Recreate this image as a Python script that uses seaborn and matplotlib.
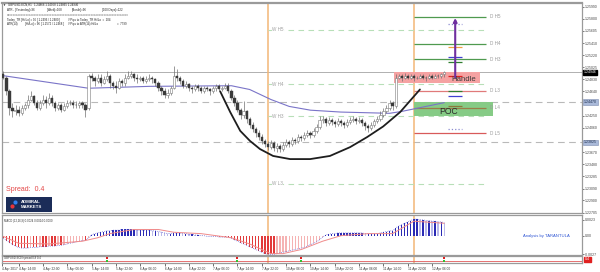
import numpy as np
import pandas as pd
import matplotlib
matplotlib.use("Agg")
import matplotlib.pyplot as plt
from matplotlib.patches import Rectangle
import seaborn as sns

sns.set_style("white")
plt.rcParams['font.family'] = ['Liberation Sans', 'DejaVu Sans']

# ---------------- data ----------------
first_bar = 3
open_ = [1.2492, 1.2486, 1.2464, 1.2438, 1.2432, 1.2435, 1.2429, 1.2437, 1.2442, 1.2451,
         1.2456, 1.2446, 1.2438, 1.2445, 1.2451, 1.2446, 1.2454, 1.2445, 1.2438, 1.2442,
         1.2435, 1.2440, 1.2445, 1.2446, 1.2443, 1.2442, 1.2445, 1.2442, 1.2438, 1.2489,
         1.2485, 1.2480, 1.2486, 1.2478, 1.2483, 1.2488, 1.2477, 1.2473, 1.2470, 1.2480,
         1.2477, 1.2486, 1.2489, 1.2491, 1.2486, 1.2483, 1.2485, 1.2480, 1.2483, 1.2486,
         1.2483, 1.2478, 1.2470, 1.2464, 1.2459, 1.2462, 1.2470, 1.2489, 1.2486, 1.2480,
         1.2473, 1.2475, 1.2470, 1.2467, 1.2472, 1.2469, 1.2465, 1.2470, 1.2467, 1.2464,
         1.2469, 1.2472, 1.2467, 1.2470, 1.2473, 1.2464, 1.2454, 1.2445, 1.2435, 1.2426,
         1.2432, 1.2420, 1.2410, 1.2404, 1.2397, 1.2391, 1.2385, 1.2380, 1.2375, 1.2381,
         1.2374, 1.2377, 1.2372, 1.2378, 1.2383, 1.2380, 1.2386, 1.2385, 1.2391, 1.2389,
         1.2394, 1.2397, 1.2394, 1.2401, 1.2407, 1.2418, 1.2420, 1.2413, 1.2418, 1.2415,
         1.2412, 1.2416, 1.2413, 1.2410, 1.2415, 1.2418, 1.2420, 1.2416, 1.2418, 1.2413,
         1.2408, 1.2405, 1.2410, 1.2416, 1.2420, 1.2427, 1.2432, 1.2438, 1.2445, 1.2440,
         1.2486, 1.2488, 1.2485, 1.2489, 1.2486, 1.2488, 1.2485, 1.2486, 1.2489, 1.2486,
         1.2485, 1.2488, 1.2486, 1.2489, 1.2488, 1.2491]
high = [1.2496, 1.2488, 1.2467, 1.2445, 1.2442, 1.2440, 1.2442, 1.2446, 1.2459, 1.2464,
        1.2459, 1.2451, 1.2451, 1.2458, 1.2456, 1.2461, 1.2458, 1.2448, 1.2446, 1.2445,
        1.2445, 1.2450, 1.2451, 1.2450, 1.2448, 1.2448, 1.2448, 1.2445, 1.2492, 1.2494,
        1.2489, 1.2492, 1.2491, 1.2488, 1.2496, 1.2491, 1.2481, 1.2480, 1.2485, 1.2483,
        1.2491, 1.2497, 1.2496, 1.2494, 1.2491, 1.2489, 1.2488, 1.2488, 1.2491, 1.2489,
        1.2486, 1.2481, 1.2473, 1.2469, 1.2467, 1.2473, 1.2504, 1.2499, 1.2489, 1.2483,
        1.2480, 1.2478, 1.2473, 1.2475, 1.2475, 1.2472, 1.2473, 1.2473, 1.2470, 1.2472,
        1.2475, 1.2475, 1.2473, 1.2477, 1.2477, 1.2467, 1.2458, 1.2450, 1.2438, 1.2448,
        1.2435, 1.2423, 1.2415, 1.2407, 1.2402, 1.2396, 1.2388, 1.2385, 1.2386, 1.2385,
        1.2381, 1.2380, 1.2383, 1.2388, 1.2386, 1.2391, 1.2389, 1.2396, 1.2394, 1.2399,
        1.2402, 1.2401, 1.2405, 1.2412, 1.2424, 1.2424, 1.2423, 1.2423, 1.2421, 1.2418,
        1.2421, 1.2420, 1.2416, 1.2420, 1.2423, 1.2424, 1.2423, 1.2423, 1.2421, 1.2416,
        1.2412, 1.2415, 1.2420, 1.2424, 1.2432, 1.2437, 1.2443, 1.2450, 1.2448, 1.2491,
        1.2492, 1.2491, 1.2494, 1.2492, 1.2491, 1.2491, 1.2489, 1.2492, 1.2492, 1.2489,
        1.2491, 1.2491, 1.2492, 1.2492, 1.2494, 1.24968]
low = [1.2483, 1.2459, 1.2427, 1.2423, 1.2426, 1.2424, 1.2426, 1.2434, 1.2438, 1.2448,
       1.2442, 1.2434, 1.2435, 1.2442, 1.2437, 1.2443, 1.2440, 1.2432, 1.2435, 1.2431,
       1.2432, 1.2437, 1.2442, 1.2438, 1.2437, 1.2438, 1.2437, 1.2423, 1.2435, 1.2480,
       1.2473, 1.2477, 1.2472, 1.2475, 1.2480, 1.2470, 1.2467, 1.2462, 1.2467, 1.2472,
       1.2473, 1.2483, 1.2485, 1.2481, 1.2478, 1.2480, 1.2477, 1.2477, 1.2480, 1.2478,
       1.2473, 1.2465, 1.2458, 1.2454, 1.2454, 1.2459, 1.2467, 1.2480, 1.2475, 1.2469,
       1.2470, 1.2465, 1.2462, 1.2464, 1.2464, 1.2461, 1.2462, 1.2464, 1.2459, 1.2461,
       1.2465, 1.2464, 1.2465, 1.2467, 1.2461, 1.2450, 1.2440, 1.2431, 1.2420, 1.2421,
       1.2413, 1.2405, 1.2399, 1.2391, 1.2386, 1.2380, 1.2375, 1.2370, 1.2372, 1.2369,
       1.2367, 1.2367, 1.2369, 1.2375, 1.2375, 1.2377, 1.2380, 1.2381, 1.2385, 1.2386,
       1.2391, 1.2389, 1.2391, 1.2397, 1.2404, 1.2413, 1.2408, 1.2410, 1.2410, 1.2407,
       1.2408, 1.2408, 1.2405, 1.2407, 1.2412, 1.2415, 1.2412, 1.2413, 1.2408, 1.2402,
       1.2399, 1.2402, 1.2407, 1.2413, 1.2416, 1.2423, 1.2429, 1.2435, 1.2435, 1.2437,
       1.2483, 1.2481, 1.2483, 1.2483, 1.2483, 1.2481, 1.2483, 1.2485, 1.2483, 1.2481,
       1.2483, 1.2483, 1.2485, 1.2485, 1.2486, 1.24865]
close = [1.2486, 1.2464, 1.2438, 1.2432, 1.2435, 1.2429, 1.2437, 1.2442, 1.2451, 1.2456,
         1.2446, 1.2438, 1.2445, 1.2451, 1.2446, 1.2454, 1.2445, 1.2438, 1.2442, 1.2435,
         1.2440, 1.2445, 1.2446, 1.2443, 1.2442, 1.2445, 1.2442, 1.2435, 1.2489, 1.2485,
         1.2480, 1.2486, 1.2478, 1.2483, 1.2488, 1.2477, 1.2473, 1.2470, 1.2480, 1.2477,
         1.2486, 1.2489, 1.2491, 1.2486, 1.2483, 1.2485, 1.2480, 1.2483, 1.2486, 1.2483,
         1.2478, 1.2470, 1.2464, 1.2459, 1.2462, 1.2470, 1.2489, 1.2486, 1.2480, 1.2473,
         1.2475, 1.2470, 1.2467, 1.2472, 1.2469, 1.2465, 1.2470, 1.2467, 1.2464, 1.2469,
         1.2472, 1.2467, 1.2470, 1.2473, 1.2464, 1.2454, 1.2445, 1.2435, 1.2426, 1.2432,
         1.2420, 1.2410, 1.2404, 1.2397, 1.2391, 1.2385, 1.2380, 1.2375, 1.2381, 1.2374,
         1.2377, 1.2372, 1.2378, 1.2383, 1.2380, 1.2386, 1.2385, 1.2391, 1.2389, 1.2394,
         1.2397, 1.2394, 1.2401, 1.2407, 1.2418, 1.2420, 1.2413, 1.2418, 1.2415, 1.2412,
         1.2416, 1.2413, 1.2410, 1.2415, 1.2418, 1.2420, 1.2416, 1.2418, 1.2413, 1.2408,
         1.2405, 1.2410, 1.2416, 1.2420, 1.2427, 1.2432, 1.2438, 1.2445, 1.2440, 1.2486,
         1.2488, 1.2485, 1.2489, 1.2486, 1.2488, 1.2485, 1.2486, 1.2489, 1.2486, 1.2485,
         1.2488, 1.2486, 1.2489, 1.2488, 1.2491, 1.24946]
macd_hist = [-0.0004, -0.0007, -0.0010, -0.0013, -0.0015, -0.0017, -0.0018, -0.0018, -0.0018, -0.0017,
             -0.0017, -0.0017, -0.0016, -0.0016, -0.0016, -0.0015, -0.0015, -0.0015, -0.0014, -0.0014,
             -0.0013, -0.0012, -0.0011, -0.0010, -0.0009, -0.0008, -0.0007, -0.0007, -0.0003, 0.0001,
             0.0003, 0.0004, 0.0005, 0.0006, 0.0007, 0.0007, 0.0008, 0.0008, 0.0008, 0.0009,
             0.0009, 0.0009, 0.0009, 0.0009, 0.0008, 0.0008, 0.0008, 0.0008, 0.0008, 0.0007,
             0.0007, 0.0006, 0.0005, 0.0004, 0.0003, 0.0003, 0.0004, 0.0004, 0.0004, 0.0003,
             0.0003, 0.0002, 0.0002, 0.0001, 0.0001, 0.0000, 0.0000, -0.0001, -0.0001, -0.0001,
             -0.0001, -0.0002, -0.0002, -0.0002, -0.0002, -0.0004, -0.0006, -0.0008, -0.0010, -0.0012,
             -0.0014, -0.0016, -0.0018, -0.0020, -0.0022, -0.0024, -0.0026, -0.0027, -0.0027, -0.0027,
             -0.0026, -0.0025, -0.0024, -0.0023, -0.0022, -0.0021, -0.0020, -0.0019, -0.0018, -0.0017,
             -0.0015, -0.0013, -0.0011, -0.0009, -0.0006, -0.0002, 0.0001, 0.0002, 0.0003, 0.0003,
             0.0004, 0.0004, 0.0004, 0.0004, 0.0004, 0.0004, 0.0004, 0.0004, 0.0004, 0.0003,
             0.0003, 0.0003, 0.0003, 0.0003, 0.0004, 0.0005, 0.0006, 0.0007, 0.0007, 0.0011,
             0.0014, 0.0016, 0.0018, 0.0020, 0.0022, 0.0024, 0.0024, 0.0023, 0.0023, 0.0022,
             0.0022, 0.0021, 0.0021, 0.0020, 0.0020, 0.0019]
signal_bar = [3, 8, 18, 29, 34, 38, 46, 54, 59, 68, 78, 84, 91, 95, 101, 108, 114, 123, 131, 138, 148]
signal_val = [-0.0001, -0.0011, -0.0012, -0.0008, -0.0003, 0.0003, 0.0009, 0.0009, 0.0005, 0.0003,
              -0.0003, -0.0012, -0.0026, -0.0026, -0.0020, -0.0008, 0.0000, 0.0003, 0.0003, 0.0021, 0.0018]
ma_bar = [3, 31, 51, 78, 84, 91, 97, 104, 114, 130, 134, 148]
ma_val = [1.2489, 1.2469, 1.2472, 1.2473, 1.2467, 1.2451, 1.2440, 1.2434, 1.2431, 1.2429, 1.2432, 1.2446]
cup_bar = [74.3, 77.6, 80.9, 84.1, 87.4, 91.7, 97.3, 103.9, 110.4, 117, 122.6, 127.9, 133.5, 140]
cup_price = [1.2464, 1.2431, 1.2401, 1.2385, 1.2372, 1.2361, 1.2356, 1.2356, 1.2361, 1.2375,
             1.2391, 1.2408, 1.2431, 1.2467]

current_price = 1.24946
gray_dashed_levels = [1.2447, 1.23825]
w_names = ['W H5', 'W H4', 'W H3', 'W L3']
w_levels = [1.2562, 1.2475, 1.2424, 1.2317]
d_names = ['D H5', 'D H4', 'D H3', 'D L3', 'D L4', 'D L5']
d_levels = [1.2583, 1.2540, 1.2515, 1.2465, 1.2438, 1.2397]
d_colors = ['#4f9a4f', '#4f9a4f', '#4f9a4f', '#e07a7a', '#9c7c48', '#d85a5a']
marker_levels = [1.2572, 1.2534, 1.2519, 1.2511, 1.2488, 1.2465, 1.2456, 1.2440, 1.2404]
marker_colors = ['#8a8ad0', '#f0a040', '#4040d0', '#2f7f2f', '#e02020', '#2f7f2f', '#4040d0', '#8a7a3a', '#8a8ad0']
marker_styles = [':', '-', '-', '-', '-', '-', '-', '-', ':']
handle_bars = (131.5, 159.8)
handle_prices = (1.24766, 1.24950)
poc_bars = (138.1, 164.1)
poc_prices = (1.24243, 1.24464)
arrow_bar = 151.6
arrow_prices = (1.2486, 1.2581)
week_sep_bar = 90.05
day_sep_bar = 138.1
spread_mark_bars = [37, 80, 101, 148]

price_ticks = [1.25990, 1.25800, 1.25605, 1.25410, 1.25220, 1.25025, 1.24830, 1.24640,
               1.24250, 1.24060, 1.23670, 1.23480, 1.23285, 1.23090, 1.22900, 1.22705]
macd_ticks = [0.0023, 0.0, -0.0027]
macd_tick_labels = ['0.0023', '0.00', '-0.0027']
time_tick_bars = [2.7, 8, 16, 24, 32, 40, 48, 56, 64, 72, 80, 88, 96, 104, 112, 120, 128, 136, 144]
time_tick_labels = ['4 Apr 2017', '4 Apr 14:00', '4 Apr 22:00', '5 Apr 06:00', '5 Apr 14:00',
                    '5 Apr 22:00', '6 Apr 06:00', '6 Apr 14:00', '6 Apr 22:00', '7 Apr 06:00',
                    '7 Apr 14:00', '7 Apr 22:00', '10 Apr 06:00', '10 Apr 14:00', '10 Apr 22:00',
                    '11 Apr 06:00', '11 Apr 14:00', '11 Apr 22:00', '12 Apr 06:00']

bars = np.arange(first_bar, first_bar + len(close))
df = pd.DataFrame({'bar': bars, 'open': open_, 'high': high, 'low': low, 'close': close,
                   'hist': macd_hist})

# ---------------- layout ----------------
W, H = 600, 272
fig = plt.figure(figsize=(6, 2.72), dpi=100, facecolor='white')


def rect(x0, y0, x1, y1):
    return [x0 / W, 1 - y1 / H, (x1 - x0) / W, (y1 - y0) / H]


ax = fig.add_axes(rect(2, 3, 582, 213))
axm = fig.add_axes(rect(2, 215, 582, 255), sharex=ax)
axs = fig.add_axes(rect(2, 256, 582, 263), sharex=ax)

for a in (ax, axm, axs):
    a.set_facecolor('white')
    for s in a.spines.values():
        s.set_color('#9a9a9a')
        s.set_linewidth(0.9)
        s.set_visible(True)
ax.spines['top'].set_linewidth(1.6)

ax.set_xlim(2.55, 193.3)
ax.set_ylim(1.2270, 1.260495)

TICK_FS = 2.5

# ---------------- main panel ----------------
ax.axhline(current_price, color='#b0b0b0', lw=0.7, zorder=1)
for lv in gray_dashed_levels:
    ax.axhline(lv, color='#b9b9b9', lw=0.8, ls=(0, (6, 4)), zorder=1)

for a in (ax, axm, axs):
    a.axvline(week_sep_bar, color='#f2b676', lw=1.1, zorder=1)
    a.axvline(day_sep_bar, color='#f2b676', lw=1.1, zorder=1)

# handle and POC boxes
ax.add_patch(Rectangle((handle_bars[0], handle_prices[0]), handle_bars[1] - handle_bars[0],
                       handle_prices[1] - handle_prices[0], facecolor='#f5a2a2', edgecolor='none', zorder=1.5))
ax.add_patch(Rectangle((poc_bars[0], poc_prices[0]), poc_bars[1] - poc_bars[0],
                       poc_prices[1] - poc_prices[0], facecolor='#86cb86', edgecolor='none', zorder=1.5))

# weekly pivots
ax.hlines(w_levels, week_sep_bar, 161.5, colors='#b8dfb8', lw=0.8, linestyles=(0, (5, 4)), zorder=1.2)
for n, v in zip(w_names, w_levels):
    ax.text(91.3, v, n, fontsize=3.3, color='#a0a0a0', va='center', ha='left', zorder=2,
            bbox=dict(facecolor='white', edgecolor='none', pad=0.2))

# daily pivots
ax.hlines(d_levels, day_sep_bar, 161.7, colors=d_colors, lw=0.9, zorder=2)
for n, v in zip(d_names, d_levels):
    ax.text(163.2, v, n, fontsize=3.3, color='#9a9a9a', va='center', ha='left', zorder=2)

# moving average
sns.lineplot(x=ma_bar, y=ma_val, ax=ax, color='#7a74c8', lw=0.8, legend=False, zorder=2.2)

# candles
up = df['close'] >= df['open']
ax.vlines(df['bar'], df['low'], df['high'], color='#707070', lw=0.5, zorder=3)
body = (df['close'] - df['open']).abs().clip(lower=0.00003)
bottom = df[['open', 'close']].min(axis=1)
ax.bar(df['bar'][up], body[up], bottom=bottom[up], width=0.72, color='white',
       edgecolor='#7a7a7a', lw=0.4, zorder=3.2)
ax.bar(df['bar'][~up], body[~up], bottom=bottom[~up], width=0.72, color='#3a3a3a',
       edgecolor='#3a3a3a', lw=0.3, zorder=3.2)

# cup
ax.plot(cup_bar, cup_price, color='#1e1e1e', lw=1.3, solid_capstyle='round',
        solid_joinstyle='round', zorder=4)

# markers
for v, c, st in zip(marker_levels, marker_colors, marker_styles):
    ax.hlines(v, 149.3, 153.9, colors=c, lw=0.9, linestyles=st, zorder=4)

# arrow
ax.annotate('', xy=(arrow_bar, arrow_prices[1]), xytext=(arrow_bar, arrow_prices[0]),
            arrowprops=dict(arrowstyle='-|>', color='#6f2f9f', lw=1.5, mutation_scale=5,
                            shrinkA=0, shrinkB=0), zorder=5)

ax.text(150.4, 1.24835, 'Handle', fontsize=5.6, color='#3c3c3c', va='center', ha='left', zorder=5)
ax.text(149.3, 1.24325, 'POC', fontsize=6.2, color='#2a2a2a', va='center', ha='center', zorder=5)

# right price axis
ax.yaxis.tick_right()
ax.set_yticks(price_ticks)
ax.set_yticklabels([f'{t:.5f}' for t in price_ticks])
ax.tick_params(axis='y', labelsize=TICK_FS, length=1.5, width=0.5, pad=0.8, colors='#444444')
ax.tick_params(axis='x', bottom=False, labelbottom=False)
ax.set_xlabel('')
ax.set_ylabel('')

ytr = ax.get_yaxis_transform()
ax.text(1.0035, current_price, f'{current_price:.5f}', transform=ytr, fontsize=TICK_FS, color='white',
        va='center', ha='left', bbox=dict(facecolor='black', edgecolor='black', pad=0.4), clip_on=False)
for lv in gray_dashed_levels:
    ax.text(1.0035, lv, f'{lv:.5f}', transform=ytr, fontsize=TICK_FS, color='#1a2a4a',
            va='center', ha='left', bbox=dict(facecolor='#a9b9d9', edgecolor='#7d8db0', pad=0.4, lw=0.4),
            clip_on=False)

# ---------------- MACD panel ----------------
axm.set_ylim(-0.0028, 0.0030)
prev = df['hist'].shift(1).fillna(df['hist'])
colors = []
for h, p in zip(df['hist'], prev):
    if h >= 0:
        colors.append('#2a2ab4' if h >= p else '#b9b9ea')
    else:
        colors.append('#e23a3a' if h <= p else '#f5b3b3')
axm.bar(df['bar'], df['hist'], width=0.45, color=colors, lw=0, zorder=2)
axm.plot(df['bar'], df['hist'], color='#4646c8', lw=0.5, ls=':', zorder=3)
sns.lineplot(x=signal_bar, y=signal_val, ax=axm, color='#f08a8a', lw=0.7, legend=False, zorder=3)
axm.yaxis.tick_right()
axm.set_yticks(macd_ticks)
axm.set_yticklabels(macd_tick_labels)
axm.tick_params(axis='y', labelsize=TICK_FS, length=1.5, width=0.5, pad=0.8, colors='#444444')
axm.tick_params(axis='x', bottom=False, labelbottom=False)
axm.set_xlabel('')
axm.set_ylabel('')
axm.text(0.003, 0.86, 'MACD (12,26,9) 0.0024 0.0024 0.0000', transform=axm.transAxes,
         fontsize=2.0, color='#333333', va='center', ha='left')
axm.text(0.898, 0.47, 'Analysis by TARANTULA', transform=axm.transAxes,
         fontsize=3.0, color='#2f55d4', va='center', ha='left')

# ---------------- spread panel ----------------
axs.set_ylim(0, 1)
axs.axhline(0.3, color='#e05a5a', lw=0.6)
axs.text(0.003, 0.7, 'GBPUSD-ECN spread 0.8 0.4', transform=axs.transAxes,
         fontsize=2.0, color='#333333', va='center', ha='left')
axs.scatter(spread_mark_bars, [0.72] * len(spread_mark_bars), marker='s', s=3, color='#e02020', zorder=4, lw=0)
axs.scatter(spread_mark_bars, [0.28] * len(spread_mark_bars), marker='s', s=3, color='#30c030', zorder=4, lw=0)
axs.set_yticks([])
axs.text(1.005, 0.5, '0.4', transform=axs.transAxes, fontsize=TICK_FS, color='white',
         va='center', ha='left', bbox=dict(facecolor='#e02020', edgecolor='#e02020', pad=0.6), clip_on=False)
axs.set_xticks(time_tick_bars)
axs.set_xticklabels(time_tick_labels)
axs.tick_params(axis='x', labelsize=2.3, length=2, width=0.5, pad=0.8, colors='#333333', bottom=True)
for lbl in axs.get_xticklabels():
    lbl.set_ha('left')
axs.set_xlabel('')
axs.set_ylabel('')

# ---------------- overlay texts ----------------
def ftext(x, y, s, **kw):
    fig.text(x / W, 1 - y / H, s, **kw)


hdr = dict(fontsize=2.1, color='#222222', va='center', ha='left')
ftext(2.5, 5, '\u25bc', fontsize=2.2, color='#222222', va='center', ha='left')
ftext(8, 5, 'GBPUSD-ECN,H1   1.24866 1.24968 1.24865 1.24946', **hdr)
ftext(7, 10.5, 'ATR - [Yesterday]=96', **hdr)
ftext(47, 10.5, '[Week]=168', **hdr)
ftext(72, 10.5, '[Month]=96', **hdr)
ftext(102, 10.5, '[100 Days]=122', **hdr)
ftext(7, 15.3, '=' * 75, **hdr)
ftext(7, 19.5, 'Today_TR [Hi/Lo] = 96 [ 1.2496 / 1.2480 ]', **hdr)
ftext(68, 19.5, '// Pips to Today_TR Hi/Lo  =  104', **hdr)
ftext(7, 24, 'ATR(14)', **hdr)
ftext(25, 24, '[Hi/Lo] = 96 [ 1.2572 / 1.2468 ]', **hdr)
ftext(68, 24, '// Pips to ATR(14) Hi/Lo', **hdr)
ftext(117, 24, '=  7799', **hdr)

ftext(6, 189.5, 'Spread:  0.4', fontsize=5.0, color='#e44848', va='center', ha='left')

# logo
lg = fig.add_axes(rect(6, 197, 52, 212))
lg.set_facecolor('#1b2c58')
lg.set_xlim(0, 1)
lg.set_ylim(0, 1)
lg.set_xticks([])
lg.set_yticks([])
for s in lg.spines.values():
    s.set_visible(False)
lg.scatter([0.2], [0.66], s=9, color='#2f7ff0', lw=0)
lg.scatter([0.13], [0.4], s=9, color='#e8343a', lw=0)
lg.text(0.32, 0.64, 'ADMIRAL', fontsize=3.2, color='white', fontweight='bold', va='center', ha='left')
lg.text(0.32, 0.3, 'MARKETS', fontsize=3.2, color='white', fontweight='bold', va='center', ha='left')

fig.savefig('out.png', dpi=100, facecolor='white')
